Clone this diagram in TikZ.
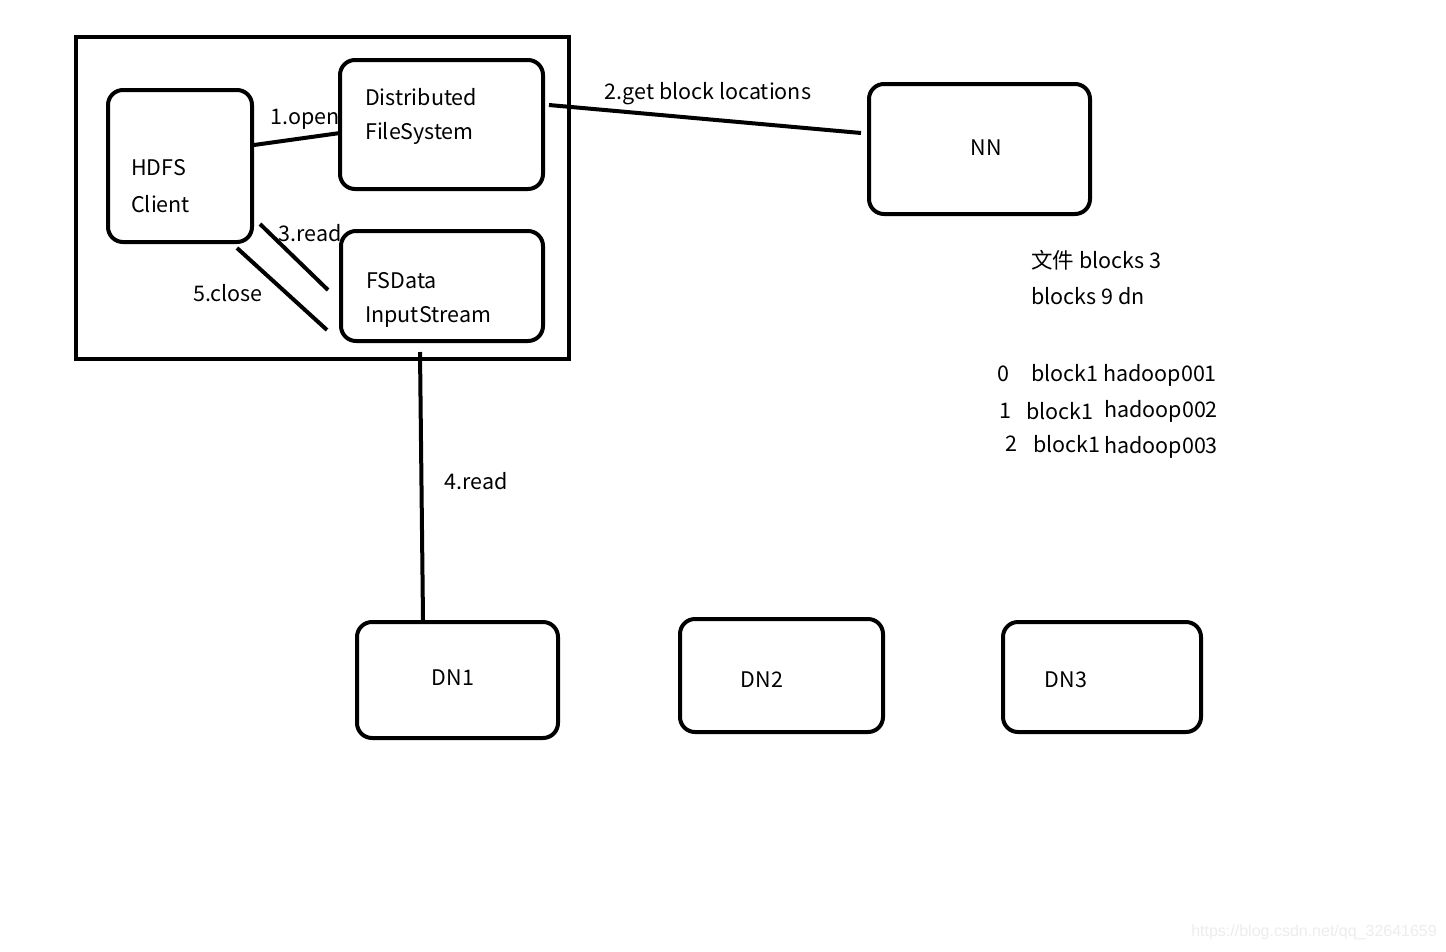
\documentclass[tikz,border=0pt]{standalone}
\usepackage{fontspec}
\setmainfont{Noto Sans CJK SC}
\newfontfamily\wmfont{Liberation Sans}
\begin{document}
\begin{tikzpicture}[x=1pt,y=-1pt,
  box/.style={draw,line width=4pt,rounded corners=15pt,inner sep=0pt},
  conn/.style={line width=4pt},
  lbl/.style={inner sep=0pt,yshift=-2pt,font=\fontsize{21.5}{25}\selectfont},
  txt/.style={inner sep=0pt,yshift=-2pt,anchor=west,font=\fontsize{21.5}{25}\selectfont}]
\useasboundingbox[fill=white] (0,0) rectangle (1446,951);
% outer frame
\node[draw,line width=4pt,inner sep=0pt,minimum width=493pt,minimum height=322pt] (frame) at (322.5,198) {};
% boxes
\node[box,minimum width=144pt,minimum height=152pt] (client) at (180,166) {};
\node[box,minimum width=203pt,minimum height=129pt] (dfs) at (441.5,124.5) {};
\node[box,minimum width=202pt,minimum height=110pt] (fsd) at (442,286) {};
\node[box,minimum width=221pt,minimum height=130pt] (nn) at (979.5,149) {};
\node[box,minimum width=201pt,minimum height=116pt] (dn1) at (457.5,680) {};
\node[box,minimum width=203pt,minimum height=113pt] (dn2) at (781.5,675.5) {};
\node[box,minimum width=198pt,minimum height=110pt] (dn3) at (1102,677) {};
% box texts
\node[txt] (t1) at (131,166) {HDFS};
\node[txt] (t2) at (131,202) {Client};
\node[txt] (t3) at (365,95) {Distributed};
\node[txt] (t4) at (365,131) {FileSystem};
\node[txt] (t5) at (366,279) {FSData};
\node[txt] (t6) at (365,315) {InputStream};
\node[lbl] (t7) at (986,146) {NN};
\node[lbl] (t8) at (453,676) {DN1};
\node[lbl] (t9) at (762,678) {DN2};
\node[lbl] (t10) at (1066,678) {DN3};
% connector endpoints
\coordinate (a1) at (254,145); \coordinate (a2) at (340,133);
\coordinate (b1) at (549,105); \coordinate (b2) at (861,133);
\coordinate (c1) at (260,224); \coordinate (c2) at (328,290);
\coordinate (d1) at (237,248); \coordinate (d2) at (327,330);
\coordinate (e1) at (420,352); \coordinate (e2) at (423,620);
\draw[conn] (a1) -- (a2);
\draw[conn] (b1) -- (b2);
\draw[conn] (c1) -- (c2);
\draw[conn] (d1) -- (d2);
\draw[conn] (e1) -- (e2);
% connector labels
\node[lbl] (l1) at (305,117) {1.open};
\node[lbl] (l2) at (708,92) {2.get block locations};
\node[lbl] (l3) at (310,231) {3.read};
\node[lbl] (l5) at (228,291) {5.close};
\node[lbl] (l4) at (476,479) {4.read};
% notes
\node[txt] (n1) at (1031,258) {文件 blocks 3};
\node[txt] (n2) at (1031,294) {blocks 9 dn};
\node[lbl] (n3) at (1003,372) {0};
\node[txt] (n4) at (1031,373) {block1 hadoop001};
\node[lbl] (n5) at (1005,409) {1};
\node[txt] (n6) at (1026,409) {block1};
\node[txt] (n7) at (1104,409) {hadoop002};
\node[lbl] (n8) at (1011,442) {2};
\node[txt] (n9) at (1033,442) {block1};
\node[txt] (n10) at (1104,445) {hadoop003};
\node[inner sep=0pt,anchor=east,text=black!7,font=\fontsize{16}{18}\selectfont\wmfont] (wm) at (1437,932) {https://blog.csdn.net/qq\_32641659};
\end{tikzpicture}
\end{document}
